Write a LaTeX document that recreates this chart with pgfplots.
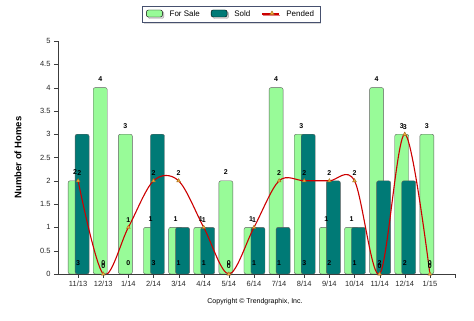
\documentclass[border=0pt]{standalone}
\usepackage{pgfplots}
\pgfplotsset{compat=1.18}
\usepackage{fontspec}
\setmainfont{Liberation Sans}
\usetikzlibrary{shadows,shapes.geometric}
\definecolor{fsale}{RGB}{152,251,152}
\definecolor{sold}{RGB}{0,122,118}
\definecolor{pend}{RGB}{204,0,0}
\definecolor{markfill}{RGB}{242,170,60}
\definecolor{markdraw}{RGB}{160,110,30}
\definecolor{legframe}{RGB}{70,80,110}
\definecolor{barframe}{RGB}{95,95,95}
\definecolor{axisgray}{RGB}{60,60,60}
\begin{document}
\begin{tikzpicture}
\path[use as bounding box] (0,0) rectangle (474pt,321pt);
\begin{axis}[
  at={(58pt,47pt)}, anchor=south west,
  scale only axis, width=397pt, height=233pt,
  xmin=-0.8, xmax=15, ymin=0, ymax=5,
  axis lines*=left,
  axis line style={-, axisgray},
  xtick={0,1,2,3,4,5,6,7,8,9,10,11,12,13,14},
  xticklabels={11/13,12/13,1/14,2/14,3/14,4/14,5/14,6/14,7/14,8/14,9/14,10/14,11/14,12/14,1/15},
  extra x ticks={15}, extra x tick labels={},
  ytick={0,0.5,1,1.5,2,2.5,3,3.5,4,4.5,5},
  yticklabels={0,0.5,1,1.5,2,2.5,3,3.5,4,4.5,5},
  tick align=outside, major tick length=4pt,
  tick style={axisgray},
  ticklabel style={font=\fontsize{7.5}{9}\selectfont, text=black!85},
  /pgf/number format/assume math mode=true,
  ylabel={\bfseries Number of Homes},
  ylabel style={at={(axis description cs:-0.101,0.5)}, anchor=center, font=\fontsize{9.5}{11}\selectfont},
  legend style={at={(axis description cs:0.436,1.116)}, anchor=center, legend columns=3,
    draw=legframe, fill=white, drop shadow={shadow xshift=1.5pt, shadow yshift=-1.5pt, fill=black!30},
    font=\fontsize{8}{9.5}\selectfont, inner xsep=4pt, inner ysep=2.5pt,
    /tikz/every even column/.append style={column sep=9pt}},
  legend cell align=left,
  clip=true,
]
\addplot[ybar, bar width=14pt, bar shift=-3pt, fill=fsale, draw=barframe, rounded corners=2pt,
  legend image code/.code={\draw[fill=fsale, draw=black] (0pt,-3pt) rectangle (16pt,4pt);}]
  coordinates {(0,2)(1,4)(2,3)(3,1)(4,1)(5,1)(6,2)(7,1)(8,4)(9,3)(10,1)(11,1)(12,4)(13,3)(14,3)};
\addlegendentry{\hspace{5pt}For Sale}
\addplot[ybar, bar width=14pt, bar shift=4pt, fill=sold, draw=barframe, rounded corners=2pt,
  legend image code/.code={\draw[fill=sold, draw=black] (0pt,-3pt) rectangle (16pt,4pt);}]
  coordinates {(0,3)(3,3)(4,1)(5,1)(7,1)(8,1)(9,3)(10,2)(11,1)(12,2)(13,2)};
\addlegendentry{\hspace{5pt}Sold}
\addplot[smooth, tension=0.55, pend, line width=1.1pt, mark=triangle*,
  mark options={fill=markfill, draw=markdraw, line width=0.4pt, scale=1.1},
  legend image code/.code={\draw[pend, line width=1.1pt] (0pt,0pt) -- (17pt,0pt); \node[draw=markdraw, fill=markfill, regular polygon, regular polygon sides=3, inner sep=0pt, minimum size=5pt, line width=0.4pt] at (8.5pt,0.5pt) {};}]
  coordinates {(0,2)(1,0)(2,1)(3,2)(4,2)(5,1)(6,0)(7,1)(8,2)(9,2)(10,2)(11,2)(12,0)(13,3)(14,0)};
\addlegendentry{\hspace{5pt}Pended}
% For Sale labels
\addplot[draw=none, forget plot, nodes near coords, point meta=explicit symbolic,
  nodes near coords style={font=\fontsize{7}{8}\selectfont\bfseries, anchor=south, yshift=2.5pt}]
  table[meta=l] {
x y l
-0.12 2 2
0.88 4 4
1.88 3 3
2.88 1 1
3.88 1 1
4.88 1 1
5.88 2 2
6.88 1 1
7.88 4 4
8.88 3 3
9.88 1 1
10.88 1 1
11.88 4 4
12.88 3 3
13.88 3 3
};
% Sold labels
\addplot[draw=none, forget plot, nodes near coords, point meta=explicit symbolic,
  nodes near coords style={font=\fontsize{7}{8}\selectfont\bfseries, anchor=center}]
  table[meta=l] {
x y l
0 0.24 3
1 0.24 0
2 0.24 0
3 0.24 3
4 0.24 1
5 0.24 1
6 0.24 0
7 0.24 1
8 0.24 1
9 0.24 3
10 0.24 2
11 0.24 1
12 0.24 2
13 0.24 2
14 0.24 0
};
% Pended labels
\addplot[draw=none, forget plot, nodes near coords, point meta=explicit symbolic,
  nodes near coords style={font=\fontsize{7}{8}\selectfont\bfseries, anchor=south, yshift=1.5pt}]
  table[meta=l] {
x y l
0.05 2 2
1 0 0
2 1 1
3 2 2
4 2 2
5 1 1
6 0 0
7 1 1
8 2 2
9 2 2
10 2 2
11 2 2
12 0 0
13 3 3
14 0 0
};
\end{axis}
\node at (255pt,19pt) {\fontsize{7}{8}\selectfont Copyright \textcopyright\ Trendgraphix, Inc.};
\end{tikzpicture}
\end{document}
